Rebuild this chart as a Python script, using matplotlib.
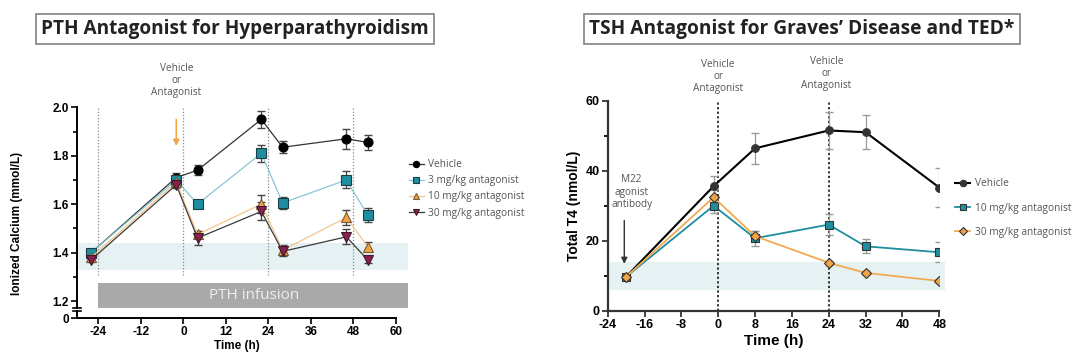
import matplotlib.pyplot as plt
from matplotlib.patches import Rectangle

plt.rcParams['axes.unicode_minus'] = False

# PTH study (left)
pth_time = [-26, -2, 4, 22, 28, 46, 52]
pth_vehicle = [1.40, 1.71, 1.74, 1.95, 1.835, 1.87, 1.855]
pth_vehicle_err = [0.01, 0.02, 0.02, 0.035, 0.024, 0.042, 0.032]
pth_3mg = [1.40, 1.70, 1.60, 1.81, 1.605, 1.70, 1.555]
pth_3mg_err = [0.01, 0.015, 0.015, 0.035, 0.026, 0.035, 0.028]
pth_10mg = [1.38, 1.69, 1.475, 1.60, 1.41, 1.545, 1.425]
pth_10mg_err = [0.01, 0.015, 0.015, 0.036, 0.02, 0.032, 0.02]
pth_30mg = [1.37, 1.68, 1.46, 1.57, 1.405, 1.465, 1.37]
pth_30mg_err = [0.01, 0.015, 0.029, 0.037, 0.02, 0.031, 0.015]
pth_labels = ['Vehicle', '3 mg/kg antagonist', '10 mg/kg antagonist', '30 mg/kg antagonist']
pth_xticks = [-24, -12, 0, 12, 24, 36, 48, 60]
pth_doses = [-24, 0, 24, 48]

# TSH study (right)
tsh_time = [-20, -1, 8, 24, 32, 48]
tsh_vehicle = [9.7, 35.6, 46.4, 51.5, 51.0, 35.2]
tsh_vehicle_err = [0.5, 3.0, 4.4, 5.3, 4.8, 5.7]
tsh_10mg = [9.7, 30.0, 20.7, 24.6, 18.4, 16.7]
tsh_10mg_err = [0.5, 2.0, 2.2, 3.1, 2.0, 2.9]
tsh_30mg = [9.7, 32.4, 21.3, 13.7, 10.8, 8.5]
tsh_30mg_err = [0.5, 2.0, 1.5, 0.5, 0.5, 0.5]
tsh_labels = ['Vehicle', '10 mg/kg antagonist', '30 mg/kg antagonist']
tsh_xticks = [-24, -16, -8, 0, 8, 16, 24, 32, 40, 48]
tsh_doses = [0, 24]

BAND = '#e6f1f4'
TEXT_GRAY = '#555555'
NICE = ['Open Sans', 'DejaVu Sans']

fig = plt.figure(figsize=(10.8, 3.61), dpi=100)

# ---------- left panel (broken y axis) ----------
ax = fig.add_axes([0.0713, 0.146, 0.2954, 0.5568])
axb = fig.add_axes([0.0713, 0.1191, 0.2954, 0.0194], sharex=ax)
ax.set_xlim(-30, 60)
ax.set_ylim(1.17, 2.0)
axb.set_ylim(0, 1)

for a in (ax, axb):
    for s in ('top', 'right'):
        a.spines[s].set_visible(False)
    a.spines['left'].set_linewidth(1.4)
    a.tick_params(width=1.2, length=4, labelsize=8.5, pad=2)
ax.spines['bottom'].set_visible(False)
ax.tick_params(axis='x', bottom=False, labelbottom=False)
axb.spines['bottom'].set_linewidth(1.4)
axb.set_yticks([0])
axb.set_xticks(pth_xticks)
ax.set_yticks([1.2, 1.4, 1.6, 1.8, 2.0])
ax.set_yticks([1.3, 1.5, 1.7, 1.9], minor=True)
ax.tick_params(axis='y', which='minor', length=3, width=1.2)
for lab in ax.get_yticklabels() + axb.get_yticklabels() + axb.get_xticklabels():
    lab.set_fontfamily('Liberation Sans')
    lab.set_fontweight('bold')

# break caps
ax.plot([-0.012, 0.012], [0, 0], transform=ax.transAxes, color='k', lw=1.2, clip_on=False)
axb.plot([-0.012, 0.012], [1, 1], transform=axb.transAxes, color='k', lw=1.2, clip_on=False)

ax.add_patch(Rectangle((-30, 1.328), 93.5, 0.112, color=BAND, lw=0, clip_on=False, zorder=0))
ax.add_patch(Rectangle((-24, 1.17), 87.5, 0.103, color='#a9a9a9', lw=0, clip_on=False, zorder=1))
ax.text(20, 1.222, 'PTH infusion', ha='center', va='center', color='#eeeeee', fontsize=11, family=NICE)
for d in pth_doses:
    ax.plot([d, d], [1.306, 2.0], color='#8a8a8a', lw=0.9, ls=(0, (1, 1.5)), zorder=1)

series = [
    (pth_vehicle, pth_vehicle_err, 'o', 'black', '#333333', 'black'),
    (pth_3mg, pth_3mg_err, 's', '#1f8ea0', '#86c7d3', '#1d3d44'),
    (pth_10mg, pth_10mg_err, '^', '#f0a447', '#f7c58a', '#7a5a30'),
    (pth_30mg, pth_30mg_err, 'v', '#8c1f50', '#3a3a3a', '#3a1a2a'),
]
handles = []
for (vals, err, mk, fc, lc, ec), lab in zip(series, pth_labels):
    ax.errorbar(pth_time, vals, yerr=err, fmt='none', ecolor='#444444', elinewidth=0.9, capsize=3, zorder=3)
    h, = ax.plot(pth_time, vals, color=lc, lw=0.9, marker=mk, ms=6.5, mfc=fc, mec=ec, mew=0.8, zorder=4, label=lab)
    handles.append(h)

ax.set_ylabel('Ionized Calcium (mmol/L)', fontsize=8.5, fontweight='bold', family='Liberation Sans', labelpad=4)
ax.yaxis.set_label_coords(-0.17, 0.42)
axb.set_xlabel('Time (h)', fontsize=8.5, fontweight='bold', family='Liberation Sans', labelpad=1)

ax.annotate('', xy=(-2, 1.829), xytext=(-2, 1.962),
            arrowprops=dict(arrowstyle='-|>', color='#f0a447', lw=1.1, mutation_scale=9))
ax.text(-2, 2.11, 'Vehicle\nor\nAntagonist', ha='center', va='center', fontsize=7.2,
        color=TEXT_GRAY, family=NICE, linespacing=1.15)

fig.legend(handles=handles, loc='upper left', bbox_to_anchor=(0.370, 0.584), frameon=False,
           prop=dict(family=NICE, size=7.3), labelcolor=TEXT_GRAY, handlelength=1.5,
           handletextpad=0.45, labelspacing=0.5, markerscale=0.7)

fig.text(0.2176, 0.92, 'PTH Antagonist for Hyperparathyroidism', ha='center', va='center',
         fontsize=13.7, fontweight='bold', family=NICE, color='#222222',
         bbox=dict(boxstyle='square,pad=0.28', fc='white', ec='#8a8a8a', lw=1.3))

# ---------- right panel ----------
ar = fig.add_axes([0.5627, 0.1393, 0.307, 0.5817])
ar.set_xlim(-24, 48)
ar.set_ylim(0, 60)
for s in ('top', 'right'):
    ar.spines[s].set_visible(False)
for s in ('left', 'bottom'):
    ar.spines[s].set_linewidth(1.6)
    ar.spines[s].set_color('#333333')
ar.set_xticks(tsh_xticks)
ar.set_yticks([0, 20, 40, 60])
ar.set_yticks([10, 30, 50], minor=True)
ar.tick_params(width=1.3, length=4, labelsize=9, pad=2, color='#333333')
ar.tick_params(axis='y', which='minor', length=3, width=1.3)
for lab in ar.get_yticklabels() + ar.get_xticklabels():
    lab.set_fontfamily('Liberation Sans')
    lab.set_fontweight('bold')

ar.add_patch(Rectangle((-24, 6.0), 73.2, 7.8, color=BAND, lw=0, clip_on=False, zorder=0))
for d in tsh_doses:
    ar.axvline(d, color='black', lw=1.1, ls=(0, (1.5, 1.5)), zorder=1)

rseries = [
    (tsh_vehicle, tsh_vehicle_err, 'o', '#333333', 'black', 1.5),
    (tsh_10mg, tsh_10mg_err, 's', '#1f8ea0', '#1f8ea0', 1.3),
    (tsh_30mg, tsh_30mg_err, 'D', '#f0a447', '#f2aa50', 1.3),
]
rhandles = []
for (vals, err, mk, fc, lc, lw), lab in zip(rseries, tsh_labels):
    ar.errorbar(tsh_time, vals, yerr=err, fmt='none', ecolor='#9a9a9a', elinewidth=0.9, capsize=3, zorder=3)
    h, = ar.plot(tsh_time, vals, color=lc, lw=lw, marker=mk, ms=5.5 if mk != 'D' else 4.8,
                 mfc=fc, mec='#333333', mew=0.8, zorder=4, label=lab)
    rhandles.append(h)

ar.set_ylabel('Total T4 (nmol/L)', fontsize=10, fontweight='bold', family='Liberation Sans', labelpad=3)
ar.set_xlabel('Time (h)', fontsize=11, fontweight='bold', family='Liberation Sans', labelpad=2)

ar.text(-18.8, 33.9, 'M22\nagonist\nantibody', ha='center', va='center', fontsize=7.2,
        color=TEXT_GRAY, family=NICE, linespacing=1.15)
ar.annotate('', xy=(-20.4, 12.6), xytext=(-20.4, 26.6),
            arrowprops=dict(arrowstyle='-|>', color='#333333', lw=1.0, mutation_scale=9))
ar.text(0, 67.0, 'Vehicle\nor\nAntagonist', ha='center', va='center', fontsize=7.2,
        color=TEXT_GRAY, family=NICE, linespacing=1.15)
ar.text(23.5, 67.7, 'Vehicle\nor\nAntagonist', ha='center', va='center', fontsize=7.2,
        color=TEXT_GRAY, family=NICE, linespacing=1.15)

fig.legend(handles=rhandles, loc='upper left', bbox_to_anchor=(0.876, 0.531), frameon=False,
           prop=dict(family=NICE, size=7.3), labelcolor=TEXT_GRAY, handlelength=1.5,
           handletextpad=0.45, labelspacing=1.3, markerscale=0.85)

fig.text(0.7426, 0.92, 'TSH Antagonist for Graves\u2019 Disease and TED*', ha='center', va='center',
         fontsize=13.8, fontweight='bold', family=NICE, color='#222222',
         bbox=dict(boxstyle='square,pad=0.28', fc='white', ec='#8a8a8a', lw=1.3))

fig.savefig('out.png', dpi=100)
